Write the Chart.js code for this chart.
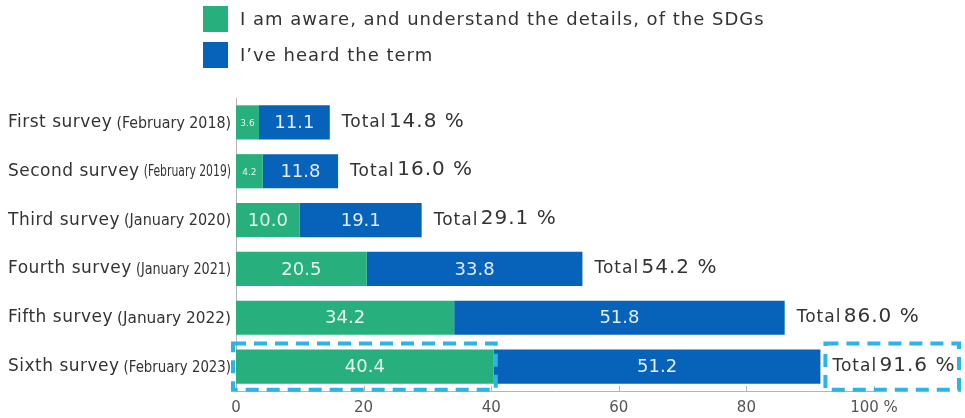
<!DOCTYPE html>
<html>
<head>
<meta charset="utf-8">
<script src="https://cdn.jsdelivr.net/npm/chart.js@4.4.1/dist/chart.umd.min.js"></script>
<style>
  html, body { margin: 0; padding: 0; background: #fff; }
  #wrap { width: 965px; height: 418px; position: relative; }
</style>
</head>
<body>
<div id="wrap"><canvas id="chart"></canvas></div>
<script>
const surveys = ['First survey', 'Second survey', 'Third survey', 'Fourth survey', 'Fifth survey', 'Sixth survey'];
const surveyDates = ['(February 2018)', '(February 2019)', '(January 2020)', '(January 2021)', '(January 2022)', '(February 2023)'];
const awareValues = [3.6, 4.2, 10.0, 20.5, 34.2, 40.4];
const heardValues = [11.1, 11.8, 19.1, 33.8, 51.8, 51.2];
const totalValues = [14.8, 16.0, 29.1, 54.2, 86.0, 91.6];
const xTicks = [0, 20, 40, 60, 80, 100];
const seriesNames = ['I am aware, and understand the details, of the SDGs', 'I\u2019ve heard the term'];
const seriesColors = ['#27b07e', '#0763b9'];

const textColor = '#333333';
const axisColor = '#b4b4b4';
const dashColor = '#2bb4e6';
const mainFont = '"DejaVu Sans", Verdana, sans-serif';
const narrowFont = '"DejaVu Sans Condensed", "DejaVu Sans", sans-serif';

// legend, category names, segment values and totals are painted here
const annotations = {
  id: 'annotations',
  afterDatasetsDraw(chart) {
    const ctx = chart.ctx;
    const x = chart.scales.x;
    const y = chart.scales.y;
    ctx.save();

    // legend
    seriesNames.forEach((name, i) => {
      const top = 6 + i * 36;
      ctx.fillStyle = seriesColors[i];
      ctx.fillRect(203, top, 25, 26);
      ctx.fillStyle = textColor;
      ctx.font = '18px ' + mainFont;
      ctx.letterSpacing = '1px';
      ctx.textAlign = 'left';
      ctx.textBaseline = 'middle';
      ctx.fillText(name, 240, top + 14);
    });
    ctx.letterSpacing = '0px';

    // axis tick marks sitting on the bottom line
    ctx.strokeStyle = axisColor;
    ctx.lineWidth = 1;
    xTicks.forEach((t) => {
      const px = Math.round(x.getPixelForValue(t)) + 0.5;
      ctx.beginPath();
      ctx.moveTo(px, chart.chartArea.bottom);
      ctx.lineTo(px, chart.chartArea.bottom - 5);
      ctx.stroke();
    });

    surveys.forEach((name, i) => {
      const cy = y.getPixelForValue(i);

      // category label: name on the left, date stretched into the rest
      ctx.fillStyle = textColor;
      ctx.textBaseline = 'middle';
      ctx.textAlign = 'left';
      ctx.font = '17px ' + mainFont;
      ctx.letterSpacing = '0.5px';
      ctx.fillText(name, 8, cy);
      const nameW = ctx.measureText(name).width;
      ctx.letterSpacing = '0px';
      ctx.font = '16px ' + narrowFont;
      const room = 231 - (8 + nameW + 4);
      const sx = Math.min(1.15, room / ctx.measureText(surveyDates[i]).width);
      ctx.save();
      ctx.translate(231, cy + 1);
      ctx.scale(sx, 1);
      ctx.textAlign = 'right';
      ctx.fillText(surveyDates[i], 0, 0);
      ctx.restore();

      // values inside the segments
      const a = awareValues[i];
      const h = heardValues[i];
      ctx.textAlign = 'center';
      ctx.fillStyle = 'rgba(255,255,255,0.88)';
      ctx.font = (a < 5 ? '9px ' : '18px ') + mainFont;
      ctx.fillText(a.toFixed(1), (x.getPixelForValue(0) + x.getPixelForValue(a)) / 2, cy + 1);
      ctx.font = '18px ' + mainFont;
      ctx.fillText(h.toFixed(1), (x.getPixelForValue(a) + x.getPixelForValue(a + h)) / 2, cy + 1);

      // total to the right of the bar
      let tx = x.getPixelForValue(a + h) + 12;
      ctx.textAlign = 'left';
      ctx.fillStyle = textColor;
      ctx.font = '17px ' + mainFont;
      ctx.letterSpacing = '1px';
      ctx.fillText('Total ', tx, cy);
      tx += ctx.measureText('Total ').width - 4;
      ctx.font = '20px ' + mainFont;
      ctx.fillText(totalValues[i].toFixed(1) + ' %', tx, cy - 1);
      ctx.letterSpacing = '0px';
    });

    // dashed highlight on the latest survey
    const last = surveys.length - 1;
    const cy = y.getPixelForValue(last);
    const bar = chart.getDatasetMeta(0).data[last];
    const half = bar.height / 2;
    ctx.strokeStyle = dashColor;
    ctx.lineWidth = 4;
    ctx.setLineDash([13, 8]);
    ctx.strokeRect(x.getPixelForValue(0) - 3, cy - half - 6, x.getPixelForValue(awareValues[last]) - x.getPixelForValue(0) + 5, bar.height + 12);
    const bx = x.getPixelForValue(awareValues[last] + heardValues[last]) + 5;
    ctx.strokeRect(bx, cy - half - 6, 965 - bx - 6, bar.height + 12);
    ctx.restore();
  }
};

new Chart(document.getElementById('chart'), {
  type: 'bar',
  data: {
    labels: surveys,
    datasets: [
      { label: seriesNames[0], data: awareValues, backgroundColor: seriesColors[0] },
      { label: seriesNames[1], data: heardValues, backgroundColor: seriesColors[1] }
    ]
  },
  options: {
    indexAxis: 'y',
    responsive: true,
    maintainAspectRatio: false,
    animation: false,
    datasets: { bar: { barPercentage: 0.7, categoryPercentage: 1 } },
    layout: { padding: { left: 236, right: 91, top: 98, bottom: 0 } },
    plugins: {
      legend: { display: false },
      tooltip: { enabled: false }
    },
    scales: {
      x: {
        stacked: true,
        min: 0,
        max: 100,
        afterBuildTicks: (scale) => { scale.ticks = xTicks.map((v) => ({ value: v })); },
        afterFit: (scale) => { scale.height = 27; },
        grid: { display: false, drawTicks: false },
        border: { display: true, color: axisColor },
        ticks: {
          color: '#555',
          padding: 8,
          font: { family: mainFont, size: 15 },
          maxRotation: 0,
          callback: (v) => (v === 100 ? '100 %' : v)
        }
      },
      y: {
        stacked: true,
        afterFit: (scale) => { scale.width = 0; },
        grid: { display: false, drawTicks: false },
        border: { display: true, color: axisColor },
        ticks: { display: false }
      }
    }
  },
  plugins: [annotations]
});
</script>
</body>
</html>
